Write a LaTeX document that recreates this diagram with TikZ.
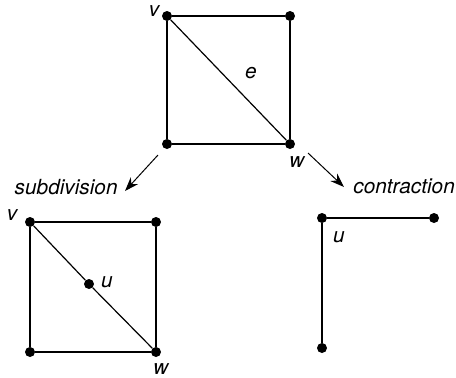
\documentclass[tikz,border=0pt]{standalone}
\usepackage{fontspec}
\setmainfont{TeX Gyre Heros}
\usetikzlibrary{arrows.meta,positioning}
\tikzset{
  >={Stealth[length=7pt,width=5pt]},
  dot/.style = {circle, fill=black, inner sep=0pt, minimum size=5pt},
  lbl/.style = {inner sep=1pt, font=\fontsize{10.4}{12.5}\selectfont\itshape},
  edge/.style = {line width=0.6pt},
}

\begin{document}
\begin{tikzpicture}[x=0.5pt,y=-0.5pt]
\useasboundingbox (0,0) rectangle (456,377);
% original graph
\node[dot] (v0) at (167,16) {};
\node[dot] (a0) at (290,16) {};
\node[dot] (b0) at (167,144) {};
\node[dot] (w0) at (290,144) {};
\draw[edge] (v0) -- (a0) -- (w0) -- (b0) -- (v0);
\draw[edge] (v0) -- (w0);
\node[lbl] at (154,11) {v};
\node[lbl] at (297,162) {w};
\node[lbl] at (251,73) {e};

% arrows
\coordinate (s1) at (158,155);
\coordinate (s2) at (125,191);
\coordinate (c1) at (308,153);
\coordinate (c2) at (344,187);
\draw[->, line width=0.5pt] (s1) -- (s2);
\draw[->, line width=0.5pt] (c1) -- (c2);
\node[lbl, anchor=east] at (120,187) {subdivision};
\node[lbl, anchor=west] at (351,186) {contraction};

% subdivision
\node[dot] (v1) at (30,222) {};
\node[dot] (a1) at (156,222) {};
\node[dot] (b1) at (30,352) {};
\node[dot] (w1) at (156,352) {};
\node[dot] (u1) at (89,284) {};
\draw[edge] (v1) -- (a1) -- (w1) -- (b1) -- (v1);
\draw[edge] (v1) -- (u1) -- (w1);
\node[lbl] at (12,215) {v};
\node[lbl] at (161,369) {w};
\node[lbl] at (107,282) {u};

% contraction
\node[dot] (u2) at (322,218) {};
\node[dot] (a2) at (434,218) {};
\node[dot] (b2) at (322,348) {};
\draw[edge] (a2) -- (u2) -- (b2);
\node[lbl] at (339,237) {u};
\end{tikzpicture}
\end{document}
